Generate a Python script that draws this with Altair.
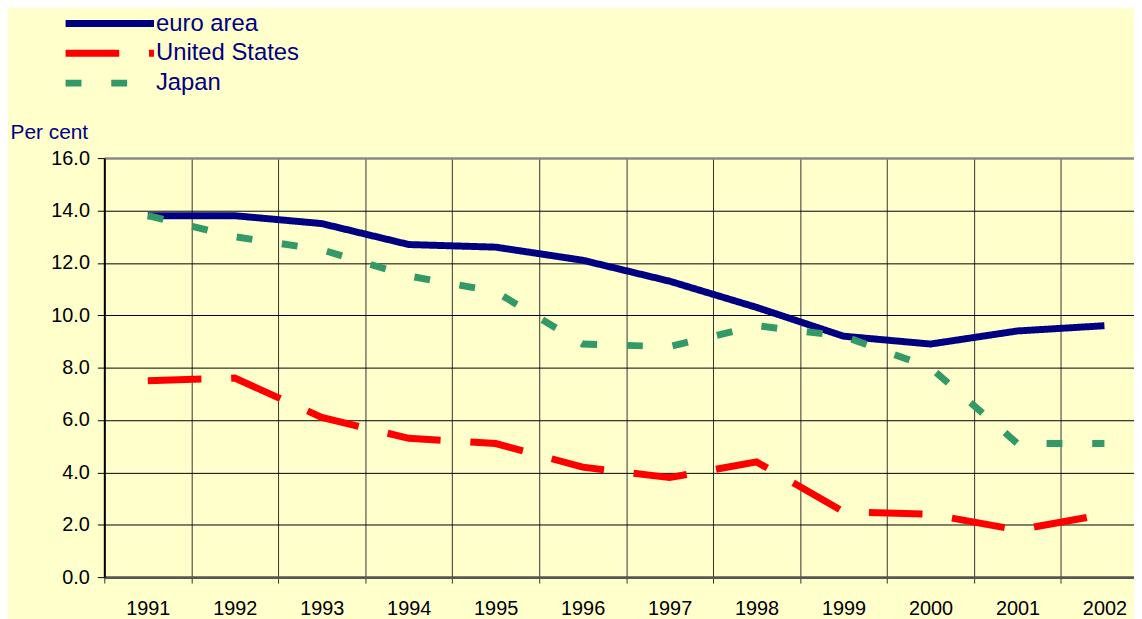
import altair as alt
import pandas as pd

years = list(range(1991, 2003))
series_names = ["euro area", "United States", "Japan"]
euro_area = [13.8, 13.8, 13.5, 12.7, 12.6, 12.1, 11.3, 10.3, 9.2, 8.9, 9.4, 9.6]
united_states = [7.5, 7.6, 6.1, 5.3, 5.1, 4.2, 3.8, 4.4, 2.5, 2.4, 1.8, 2.4]
japan = [13.8, 13.0, 12.5, 11.5, 10.9, 8.9, 8.8, 9.6, 9.2, 8.0, 5.1, 5.1]
y_ticks = [0, 2, 4, 6, 8, 10, 12, 14, 16]

rows = []
for name, vals in zip(series_names, [euro_area, united_states, japan]):
    for yr, v in zip(years, vals):
        rows.append({"year": yr, "series": name, "value": v})
df = pd.DataFrame(rows)

x_values = []
for yr in years:
    x_values.append(yr - 0.5)
    x_values.append(yr)

FONT = "Liberation Sans"
NAVY = "#000080"

chart = alt.Chart(df).mark_line(strokeWidth=7, strokeCap="butt").encode(
    x=alt.X(
        "year:Q",
        scale=alt.Scale(domain=[1990.5, 2002.34], nice=False, zero=False),
        axis=alt.Axis(
            title=None,
            values=x_values,
            labelExpr="datum.value % 1 == 0 ? toString(datum.value) : ''",
            labelOverlap=False,
            labelFlush=False,
            labelFont=FONT,
            labelFontSize=20,
            labelColor="#000000",
            labelPadding=16,
            tickSize=6,
            tickColor="#333333",
            tickOpacity={"condition": {"test": "datum.value % 1 == 0", "value": 0}, "value": 1},
            grid=True,
            gridColor="#333333",
            gridWidth=1,
            gridOpacity={"condition": {"test": "datum.value % 1 == 0", "value": 0}, "value": 1},
            domainColor="#555555",
            domainWidth=3,
        ),
    ),
    y=alt.Y(
        "value:Q",
        scale=alt.Scale(domain=[0, 16], nice=False),
        axis=alt.Axis(
            title="Per cent",
            titleAngle=0,
            titleAlign="left",
            titleBaseline="alphabetic",
            titleX=-95,
            titleY=-20,
            titleColor=NAVY,
            titleFont=FONT,
            titleFontSize=21,
            titleFontWeight="normal",
            values=y_ticks,
            format=".1f",
            labelFont=FONT,
            labelFontSize=20,
            labelColor="#000000",
            labelPadding=8,
            tickSize=7,
            tickColor="#000000",
            grid=True,
            gridColor={"condition": {"test": "datum.value == 16", "value": "#888888"}, "value": "#000000"},
            gridWidth={"condition": {"test": "datum.value == 16", "value": 2.5}, "value": 1},
            domainColor="#000000",
            domainWidth=2,
        ),
    ),
    color=alt.Color(
        "series:N",
        scale=alt.Scale(domain=series_names, range=[NAVY, "#FF0000", "#339966"]),
        legend=alt.Legend(
            title=None,
            orient="none",
            legendX=-7,
            legendY=-148,
            symbolType="M-5,0H5",
            symbolSize=317,
            symbolStrokeWidth=7,
            labelFont=FONT,
            labelFontSize=24,
            labelColor=NAVY,
            labelOffset=34,
            rowPadding=1,
        ),
    ),
    strokeDash=alt.StrokeDash(
        "series:N",
        scale=alt.Scale(domain=series_names, range=[[1, 0], [54, 30], [16, 30]]),
        legend=None,
    ),
    order=alt.Order("year:Q"),
).properties(
    width=1037,
    height=422,
    background="#FFFFCC",
    autosize=alt.AutoSizeParams(type="none"),
    padding={"left": 97, "top": 149, "right": 0, "bottom": 40},
).configure_view(stroke=None)

chart.save("out.html", embed_options={"renderer": "svg", "actions": False})
